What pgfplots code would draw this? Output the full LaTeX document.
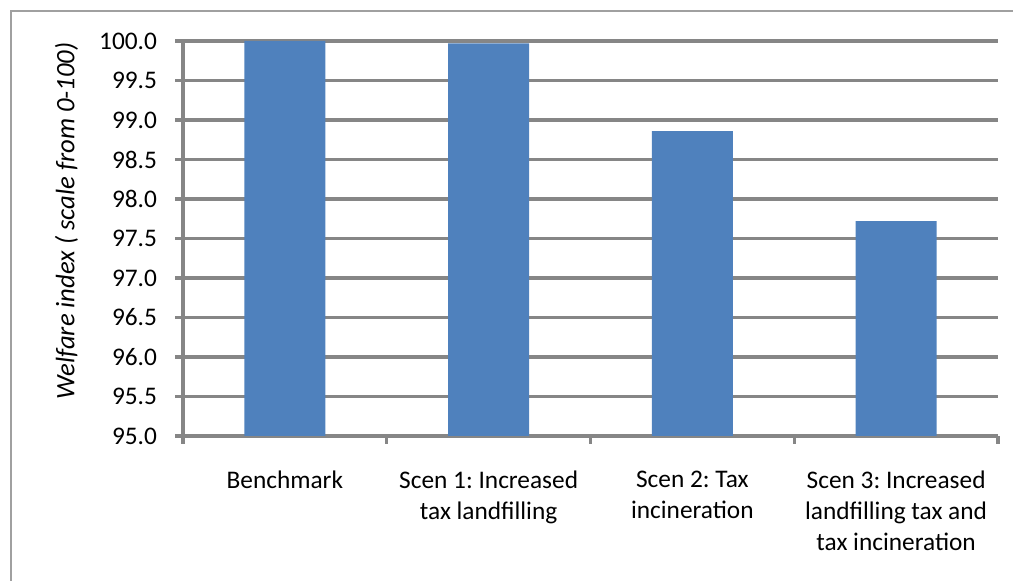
\documentclass[border=0pt]{standalone}
\usepackage{pgfplots}
\pgfplotsset{compat=1.18}
\usepackage{fontspec}
\setmainfont{Carlito}
\frenchspacing
\definecolor{barblue}{HTML}{4F81BD}
\definecolor{gridgray}{HTML}{868686}
\definecolor{framegray}{HTML}{A0A0A0}
\begin{document}
\begin{tikzpicture}[x=0.75pt,y=0.75pt]
\useasboundingbox (0,0) rectangle (1013,581);
\draw[framegray, line width=1.1pt] (11,0) -- (11,570) -- (1013,570);
\begin{axis}[
  at={(137.25pt,108.75pt)}, anchor=south west,
  scale only axis, width=611.25pt, height=296.25pt,
  xmin=-0.5, xmax=3.5, ymin=95, ymax=100,
  enlargelimits=false,
  axis lines*=left,
  axis line style={gridgray, line width=2.4pt},
  ymajorgrids,
  major grid style={gridgray, line width=2.4pt},
  tick align=outside,
  major tick length=6pt,
  tick style={gridgray, line width=2.4pt},
  ytick distance=0.5,
  yticklabel style={font=\fontsize{19}{23}\selectfont, xshift=-10pt,
    /pgf/number format/.cd, fixed, fixed zerofill, precision=1, assume math mode=true},
  xtick={-0.5,0.5,1.5,2.5,3.5},
  xticklabels={},
  extra x ticks={0,1,2,3},
  extra x tick labels={Benchmark, {Scen 1: Increased\\tax landfilling}, {Scen 2: Tax\\incineration}, {Scen 3: Increased\\landfilling tax and\\tax incineration}},
  extra x tick style={major tick length=0pt, grid=none,
    tick label style={align=center, font=\fontsize{19}{23.25}\selectfont, yshift=-22.5pt}},
  ylabel={\itshape Welfare index ( scale from 0-100)},
  ylabel style={at={(axis description cs:-0.143,0.545)}, anchor=center, rotate=0, font=\fontsize{20}{24}\selectfont},
  ybar, bar width=60.75pt,
]
\addplot[fill=barblue, draw=none] coordinates {(0,100.0) (1,99.97) (2,98.86) (3,97.72)};
\end{axis}
\end{tikzpicture}
\end{document}
